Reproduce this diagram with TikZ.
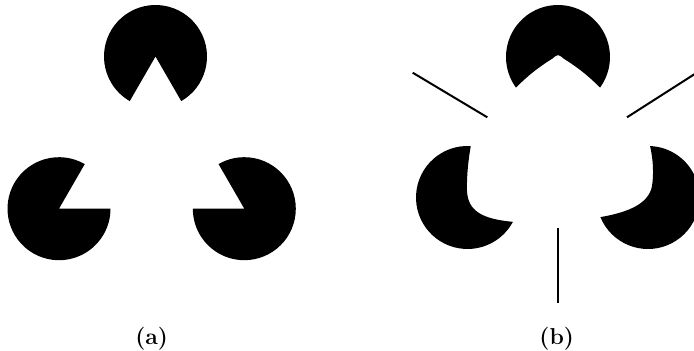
\documentclass[tikz,border=0pt]{standalone}
\usepackage{fontspec}
\usepackage{tikz}
\tikzset{
  pac/.style={fill=black},
  inducer/.style={line width=2pt},
  caption/.style={font={\bfseries\fontsize{23}{27}\selectfont}}
}

\begin{document}
\begin{tikzpicture}[x=1pt,y=1pt]
  \useasboundingbox (0,0) rectangle (694,351);
  \clip (0,0) rectangle (694,351);
  % (a) pacmen with straight notches
  \foreach \cx/\cy/\s in {155.5/294.5/300, 59/142.3/60, 244.3/142.3/180} {
    \fill[pac] (\cx,\cy) -- ++(\s:51.5) arc[start angle=\s, delta angle=300, radius=51.5] -- cycle;
  }
  \node[caption] (capa) at (151.7,12.6) {(a)};
  % (b) pacmen with curved notches
  \coordinate (tb) at (558,294);
  \coordinate (lb) at (467.5,153.5);
  \coordinate (rb) at (648,153.5);
  \fill[pac] (tb) ++(324:52) arc[start angle=324, end angle=576, radius=52]
    to[bend left=6] (552.5,292.5) .. controls (558,297) .. (563.5,292.5)
    to[bend left=6] ([shift={(324:52)}]tb) -- cycle;
  \fill[pac] (lb) ++(86.4:51.5) arc[start angle=86.4, end angle=331.8, radius=51.5]
    .. controls (482,132) and (468,140) .. (467,160)
    .. controls (466.5,175) and (468.5,192) .. ([shift={(86.4:51.5)}]lb) -- cycle;
  \fill[pac] (rb) ++(202.4:51.5) arc[start angle=202.4, end angle=447.7, radius=51.5]
    .. controls (653,192) and (654,178) .. (652,165)
    .. controls (649,148) and (630,139) .. ([shift={(202.4:51.5)}]rb) -- cycle;
  % line inducers
  \coordinate (lla) at (412.7,278.3);
  \coordinate (llb) at (487.3,233.7);
  \coordinate (lra) at (627,233.7);
  \coordinate (lrb) at (701,281);
  \coordinate (lda) at (557.7,122.7);
  \coordinate (ldb) at (557.7,48.3);
  \draw[inducer] (lla) -- (llb);
  \draw[inducer] (lra) -- (lrb);
  \draw[inducer] (lda) -- (ldb);
  \node[caption] (capb) at (556.7,12.6) {(b)};
\end{tikzpicture}
\end{document}
